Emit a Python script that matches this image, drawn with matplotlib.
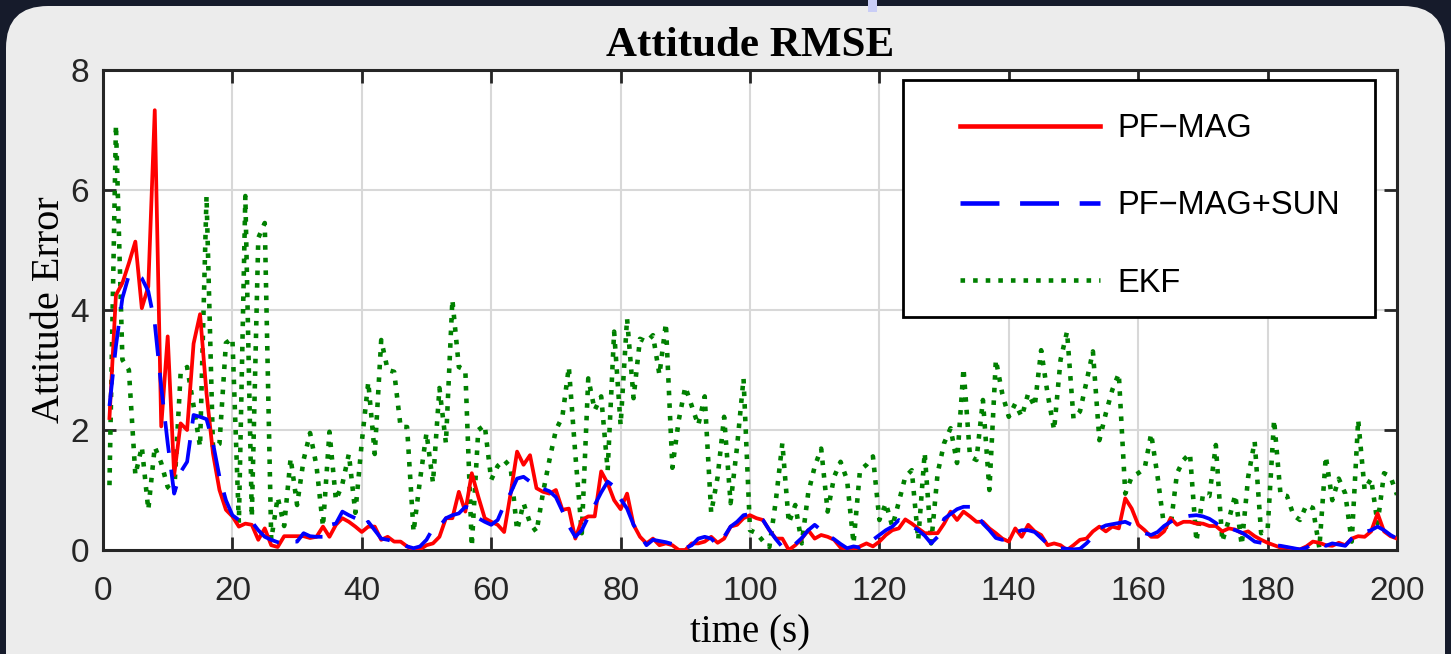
import numpy as np
import matplotlib
matplotlib.use("Agg")
import matplotlib.pyplot as plt
from matplotlib.patches import FancyBboxPatch, Rectangle

# time axis (s)
t = np.arange(1, 201)

pf_mag = [
    2.2, 4.25, 4.45, 4.78, 5.14, 4.03, 4.39, 7.33, 2.06, 3.56,
    1.25, 2.11, 2.0, 3.44, 3.93, 2.61, 1.61, 1.0, 0.67, 0.56,
    0.39, 0.44, 0.42, 0.17, 0.36, 0.08, 0.05, 0.23, 0.23, 0.23,
    0.23, 0.2, 0.22, 0.39, 0.22, 0.42, 0.53, 0.47, 0.39, 0.3,
    0.39, 0.39, 0.17, 0.22, 0.14, 0.14, 0.06, 0.0, 0.01, 0.08,
    0.11, 0.22, 0.53, 0.53, 0.97, 0.64, 1.28, 0.89, 0.53, 0.47,
    0.42, 0.3, 0.94, 1.64, 1.42, 1.58, 1.03, 0.97, 0.94, 1.0,
    0.67, 0.69, 0.19, 0.5, 0.56, 0.56, 1.31, 1.11, 0.83, 0.68,
    0.94, 0.42, 0.22, 0.11, 0.19, 0.08, 0.11, 0.08, 0.0, 0.0,
    0.11, 0.11, 0.14, 0.22, 0.12, 0.19, 0.39, 0.42, 0.53, 0.58,
    0.53, 0.5, 0.33, 0.19, 0.19, 0.0, 0.08, 0.19, 0.33, 0.19,
    0.25, 0.22, 0.17, 0.04, 0.02, 0.01, 0.06, 0.11, 0.06, 0.14,
    0.25, 0.33, 0.36, 0.51, 0.44, 0.36, 0.28, 0.28, 0.28, 0.44,
    0.64, 0.5, 0.64, 0.56, 0.47, 0.47, 0.36, 0.28, 0.19, 0.14,
    0.36, 0.22, 0.42, 0.31, 0.25, 0.08, 0.11, 0.08, 0.0, 0.08,
    0.17, 0.19, 0.31, 0.39, 0.31, 0.39, 0.36, 0.86, 0.69, 0.42,
    0.33, 0.22, 0.22, 0.31, 0.53, 0.42, 0.47, 0.47, 0.44, 0.44,
    0.4, 0.4, 0.31, 0.36, 0.34, 0.28, 0.31, 0.23, 0.17, 0.12,
    0.08, 0.04, 0.04, 0.02, 0.01, 0.06, 0.14, 0.12, 0.08, 0.07,
    0.12, 0.08, 0.19, 0.23, 0.22, 0.31, 0.61, 0.31, 0.23, 0.19,
]

pf_mag_sun = [
    2.4, 3.4, 4.2, 4.58, 4.6, 4.53, 4.31, 3.78, 2.72, 1.78,
    0.94, 1.3, 1.47, 2.25, 2.22, 2.18, 1.78, 1.22, 0.83, 0.58,
    0.5, 0.48, 0.47, 0.33, 0.22, 0.17, 0.13, 0.11, 0.14, 0.14,
    0.28, 0.23, 0.22, 0.22, 0.42, 0.44, 0.64, 0.58, 0.53, 0.39,
    0.47, 0.33, 0.19, 0.17, 0.14, 0.12, 0.06, 0.03, 0.06, 0.17,
    0.36, 0.39, 0.53, 0.58, 0.61, 0.72, 0.69, 0.53, 0.47, 0.42,
    0.5, 0.75, 0.95, 1.19, 1.22, 1.14, 1.12, 1.02, 0.98, 0.88,
    0.65, 0.4, 0.22, 0.33, 0.55, 0.75, 0.96, 1.14, 1.06, 0.85,
    0.69, 0.42, 0.25, 0.08, 0.17, 0.15, 0.13, 0.1, 0.03, 0.03,
    0.08, 0.19, 0.22, 0.19, 0.08, 0.22, 0.39, 0.47, 0.58, 0.6,
    0.57, 0.5, 0.33, 0.18, 0.05, 0.02, 0.1, 0.2, 0.33, 0.42,
    0.33, 0.25, 0.18, 0.1, 0.03, 0.06, 0.04, 0.08, 0.17, 0.25,
    0.33, 0.39, 0.5, 0.45, 0.4, 0.33, 0.24, 0.11, 0.22, 0.52,
    0.6, 0.68, 0.72, 0.72, 0.61, 0.44, 0.33, 0.2, 0.17, 0.2,
    0.29, 0.33, 0.33, 0.3, 0.2, 0.1, 0.06, 0.03, 0.02, 0.01,
    0.02, 0.11, 0.22, 0.36, 0.41, 0.43, 0.45, 0.47, 0.42, 0.34,
    0.28, 0.25, 0.3, 0.4, 0.47, 0.53, 0.55, 0.57, 0.58, 0.56,
    0.52, 0.45, 0.36, 0.37, 0.33, 0.29, 0.22, 0.14, 0.12, 0.1,
    0.08, 0.07, 0.05, 0.03, 0.01, 0.04, 0.1, 0.12, 0.07, 0.11,
    0.09, 0.07, 0.19, 0.27, 0.3, 0.33, 0.39, 0.33, 0.25, 0.19,
]

ekf = [
    1.08, 7.08, 3.17, 3.0, 1.25, 1.72, 0.67, 1.72, 1.45, 1.05,
    0.95, 2.95, 3.05, 2.4, 1.72, 5.9, 1.7, 1.77, 3.45, 3.53,
    0.45, 5.9, 0.55, 5.2, 5.45, 0.17, 0.88, 0.4, 1.53, 0.75,
    1.5, 1.95, 1.4, 0.39, 1.97, 0.83, 1.1, 1.6, 0.62, 1.8,
    2.8, 1.6, 3.5, 3.0, 2.97, 2.05, 2.05, 0.3, 1.17, 1.95,
    1.12, 2.7, 1.78, 4.17, 3.05, 3.0, 0.06, 2.0, 2.08, 1.17,
    1.4, 1.5, 1.38, 0.33, 0.78, 0.45, 0.3, 0.95, 1.5, 2.0,
    2.22, 3.05, 1.6, 0.28, 2.86, 2.33, 2.56, 1.33, 3.64, 2.08,
    3.86, 2.53, 3.52, 3.47, 3.58, 2.92, 3.78, 1.37, 2.17, 2.72,
    2.4, 2.08, 2.56, 0.62, 1.22, 2.22, 0.78, 1.72, 2.86, 0.33,
    0.28, 0.15, 0.05, 0.83, 1.78, 0.45, 0.75, 0.11, 0.95, 1.39,
    1.69, 0.64, 1.22, 1.47, 1.17, 0.11, 1.33, 1.42, 1.56, 0.5,
    0.78, 0.39, 0.8, 1.22, 1.33, 0.17, 1.62, 0.11, 1.28, 1.78,
    2.03, 1.45, 3.03, 1.56, 1.5, 2.5, 1.0, 3.17, 2.6, 2.22,
    2.44, 2.22, 2.61, 2.39, 3.33, 2.6, 2.0, 3.17, 3.64, 2.19,
    2.31, 2.8, 3.31, 1.83, 2.28, 2.67, 2.94, 0.94, 1.22, 1.28,
    1.36, 1.94, 1.22, 0.39, 0.39, 1.28, 1.5, 1.61, 0.14, 0.92,
    0.9, 1.75, 0.14, 0.5, 0.92, 0.08, 1.22, 1.81, 0.28, 0.33,
    2.17, 0.92, 0.9, 0.58, 0.5, 0.75, 0.7, 0.03, 1.56, 0.83,
    1.19, 0.94, 0.14, 2.17, 1.0, 1.19, 0.44, 1.28, 1.22, 0.92,
]

SERIF = "Liberation Serif"
SANS = "Liberation Sans"

W, H = 1451, 654
fig = plt.figure(figsize=(W / 100, H / 100), dpi=100, facecolor="#161b2b")

# rounded light panel behind the chart
bg = fig.add_axes([0, 0, 1, 1], zorder=0)
bg.set_xlim(0, W)
bg.set_ylim(H, 0)
bg.axis("off")
bg.add_patch(FancyBboxPatch((6, 6), W - 12, H + 60,
                            boxstyle="round,pad=0,rounding_size=42",
                            facecolor="#ececec", edgecolor="none"))
bg.add_patch(Rectangle((868, 0), 9, 12, facecolor="#c9cdf6", edgecolor="none"))

AX_L, AX_R, AX_T, AX_B = 103, 1397, 70, 550
ax = fig.add_axes([AX_L / W, 1 - AX_B / H, (AX_R - AX_L) / W, (AX_B - AX_T) / H],
                  zorder=1)
ax.set_facecolor("white")

ax.plot(t, pf_mag, color="#ff0000", lw=2.7, label="PF\u2212MAG", zorder=3)
ax.plot(t, pf_mag_sun, color="#0000ff", lw=2.7, linestyle=(0, (8.5, 4.5)),
        label="PF\u2212MAG+SUN", zorder=3)
ax.plot(t, ekf, color="#008000", lw=3.3, linestyle=(0, (1, 1.75)),
        dash_capstyle="butt", label="EKF", zorder=2)

ax.set_xlim(0, 200)
ax.set_ylim(0, 8)
ax.set_xticks(np.arange(0, 201, 20))
ax.set_yticks(np.arange(0, 9, 2))
ax.grid(True, color="#d8d8d8", lw=1.5)
ax.set_axisbelow(True)
ax.tick_params(direction="in", length=9.5, width=2, top=True, right=True,
               labelsize=24, colors="#262626", pad=10)
ax.tick_params(axis="x", pad=19)
for lab in ax.get_xticklabels() + ax.get_yticklabels():
    lab.set_fontfamily(SANS)
for s in ax.spines.values():
    s.set_linewidth(2.2)
    s.set_color("#262626")

ax.set_title("Attitude RMSE", fontfamily=SERIF, fontweight="bold",
             fontsize=31, pad=10)
ax.set_xlabel("time (s)", fontfamily=SERIF, fontsize=28, labelpad=5)
ax.set_ylabel("Attitude Error", fontfamily=SERIF, fontsize=29, labelpad=2)

# legend: frame drawn separately so the box and entries can be placed apart
def ax_x(px):
    return (px - AX_L) / (AX_R - AX_L)

def ax_y(py):
    return (AX_B - py) / (AX_B - AX_T)

ax.add_patch(Rectangle((ax_x(903), ax_y(317)), ax_x(1375) - ax_x(903),
                       ax_y(80) - ax_y(317), transform=ax.transAxes,
                       facecolor="white", edgecolor="black", lw=2, zorder=4))
leg = ax.legend(loc="upper left", bbox_to_anchor=(ax_x(960), ax_y(113)),
                borderaxespad=0, borderpad=0, frameon=False,
                handlelength=4.3, handletextpad=0.52, labelspacing=1.42,
                prop={"family": SANS, "size": 23.5})
leg.set_zorder(5)
for ln in leg.get_lines():
    ln.set_linewidth(3.3)

fig.savefig("out.png", dpi=100, facecolor=fig.get_facecolor())
